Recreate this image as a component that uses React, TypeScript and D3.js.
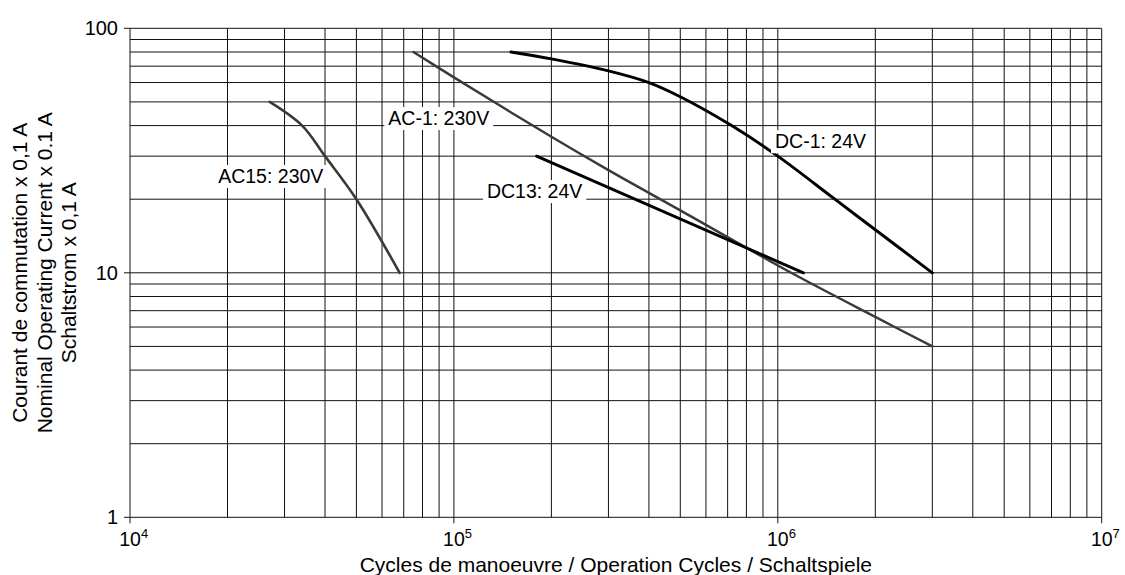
import React, { useEffect, useRef } from "react";
import * as d3 from "d3";

// curve points: [operation cycles, current x 0.1 A]
const ac15Points = [[27000, 50], [34000, 40], [40000, 30], [50000, 20], [68000, 10]];
const ac1Points = [[75000, 80], [100000, 63], [200000, 36], [300000, 26.3], [500000, 18], [1100000, 10], [2000000, 6.6], [3000000, 5]];
const dc13Points = [[180000, 30], [1200000, 10]];
const dc1Points = [[150000, 80], [200000, 75], [300000, 67], [400000, 60], [500000, 52.5], [720000, 40], [1000000, 30], [1500000, 20], [2000000, 15], [3000000, 10]];

const seriesNames = ["AC15: 230V", "AC-1: 230V", "DC13: 24V", "DC-1: 24V"];
// label anchor (centre x, baseline y) in data units
const labelAnchors = [[27200, 23.3], [89800, 40.2], [177500, 20.2], [1355000, 32.3]];

const xDecades = [1e4, 1e5, 1e6, 1e7];
const yDecades = [1, 10, 100];

const xTitle = "Cycles de manoeuvre / Operation Cycles / Schaltspiele";
const yTitle = ["Courant de commutation x 0,1 A", "Nominal Operating Current x 0.1 A", "Schaltstrom x 0,1 A"];

const W = 1125;
const H = 575;
const FONT = "'Liberation Sans', Arial, Helvetica, sans-serif";
const FS = 19.5;
const TITLE_FS = 21;

const SwitchingChart = () => {
    const svgRef = useRef(null);

    useEffect(() => {
        const svg = d3.select(svgRef.current);
        svg.selectAll("*").remove();

        const x = d3.scaleLog().domain([1e4, 1e7]).range([130, 1101.7]);
        const y = d3.scaleLog().domain([1, 100]).range([517.3, 28.3]);
        const [x0, x1] = x.range();
        const [y0, y1] = y.range();

        // grid
        const grid = svg.append("g").attr("stroke", "#111").attr("stroke-width", 1);
        grid.selectAll("line.v")
            .data(x.ticks())
            .enter()
            .append("line")
            .attr("x1", (d) => x(d))
            .attr("x2", (d) => x(d))
            .attr("y1", y1)
            .attr("y2", y0);
        grid.selectAll("line.h")
            .data(y.ticks())
            .enter()
            .append("line")
            .attr("x1", x0)
            .attr("x2", x1)
            .attr("y1", (d) => y(d))
            .attr("y2", (d) => y(d));

        // small ticks at decades
        grid.selectAll("line.xt")
            .data(xDecades)
            .enter()
            .append("line")
            .attr("x1", (d) => x(d))
            .attr("x2", (d) => x(d))
            .attr("y1", y0)
            .attr("y2", y0 + 6);
        grid.selectAll("line.yt")
            .data(yDecades)
            .enter()
            .append("line")
            .attr("x1", x0 - 6)
            .attr("x2", x0)
            .attr("y1", (d) => y(d))
            .attr("y2", (d) => y(d));

        // curves
        const line = d3
            .line()
            .x((d) => x(d[0]))
            .y((d) => y(d[1]))
            .curve(d3.curveCatmullRom.alpha(0.5));

        const series = [
            { pts: ac15Points, color: "#3a3a3a", w: 2.6 },
            { pts: ac1Points, color: "#3a3a3a", w: 2.4 },
            { pts: dc13Points, color: "#000", w: 2.9 },
            { pts: dc1Points, color: "#000", w: 2.9 },
        ];
        series.forEach((s) => {
            svg.append("path")
                .attr("d", line(s.pts))
                .attr("fill", "none")
                .attr("stroke", s.color)
                .attr("stroke-width", s.w)
                .attr("stroke-linecap", "round")
                .attr("stroke-linejoin", "round");
        });

        // curve labels on white boxes
        seriesNames.forEach((name, i) => {
            const g = svg.append("g");
            const t = g.append("text")
                .attr("x", x(labelAnchors[i][0]))
                .attr("y", y(labelAnchors[i][1]))
                .attr("text-anchor", "middle")
                .style("font-family", FONT)
                .style("font-size", FS + "px")
                .text(name);
            const b = t.node().getBBox();
            g.insert("rect", "text")
                .attr("x", b.x - 4)
                .attr("y", b.y)
                .attr("width", b.width + 8)
                .attr("height", b.height + 1)
                .attr("fill", "#fff");
        });

        // y tick labels
        svg.selectAll("text.yl")
            .data(yDecades)
            .enter()
            .append("text")
            .attr("x", x0 - 12)
            .attr("y", (d) => y(d) + 7)
            .attr("text-anchor", "end")
            .style("font-family", FONT)
            .style("font-size", "20px")
            .text((d) => d);

        // x tick labels 10^n
        xDecades.forEach((d) => {
            const t = svg.append("text")
                .attr("x", x(d) - 10.8)
                .attr("y", 546)
                .style("font-family", FONT)
                .style("font-size", FS + "px");
            t.append("tspan").text("10");
            t.append("tspan")
                .attr("dy", -8)
                .style("font-size", "13px")
                .text(Math.round(Math.log10(d)));
        });

        // axis titles
        svg.append("text")
            .attr("x", (x0 + x1) / 2)
            .attr("y", 572)
            .attr("text-anchor", "middle")
            .style("font-family", FONT)
            .style("font-size", TITLE_FS + "px")
            .text(xTitle);

        const yMid = (y0 + y1) / 2;
        yTitle.forEach((s, i) => {
            svg.append("text")
                .attr("transform", `translate(${27 + i * 24.5},${yMid}) rotate(-90)`)
                .attr("text-anchor", "middle")
                .style("font-family", FONT)
                .style("font-size", TITLE_FS + "px")
                .text(s);
        });
    });

    return (
        <svg
            ref={svgRef}
            width={W}
            height={H}
            style={{ position: "absolute", left: 0, top: 0, background: "#fff" }}
        ></svg>
    );
};

export default function App() {
    return <SwitchingChart />;
}
